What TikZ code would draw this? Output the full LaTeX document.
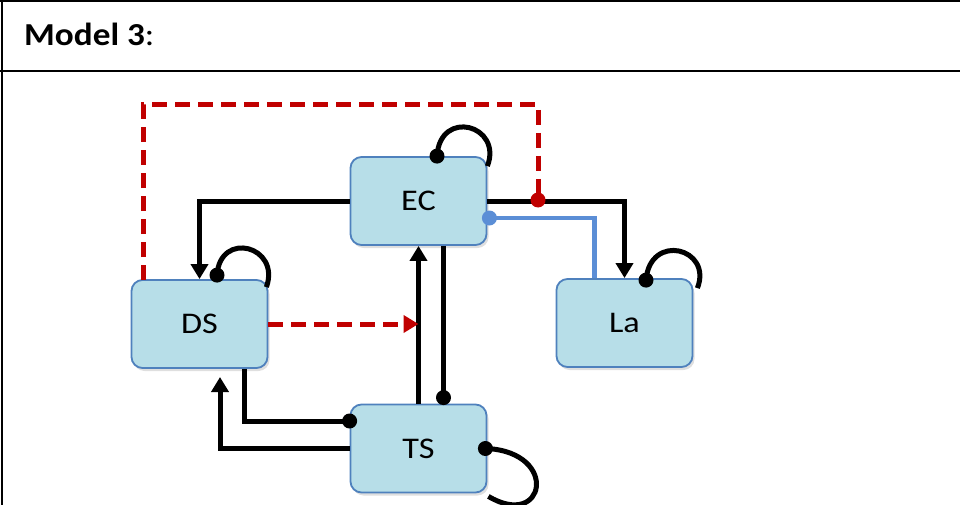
\documentclass[tikz,border=0pt]{standalone}
\usepackage{fontspec}
\setmainfont{Carlito}
\usepackage{graphicx}
\usetikzlibrary{arrows.meta,shadows,calc}
\definecolor{boxfill}{HTML}{B7DEE8}
\definecolor{boxline}{HTML}{4F81BD}
\definecolor{redline}{HTML}{C00000}
\definecolor{blueline}{HTML}{5B8ED6}
\tikzset{
  statebox/.style={draw=boxline, line width=1.8pt, fill=boxfill, rounded corners=11pt,
    minimum width=136pt, minimum height=88pt, inner sep=0pt,
    drop shadow={opacity=0.25, shadow xshift=2pt, shadow yshift=-3pt},
    font=\fontsize{30}{34}\selectfont},
  conn/.style={draw=black, line width=5pt, line join=miter},
  arr/.style={-{Triangle[width=17pt,length=15pt]}},
  reddash/.style={draw=redline, line width=5pt, dash pattern=on 15pt off 8pt},
  bluecon/.style={draw=blueline, line width=4.5pt, line join=miter},
  loopline/.style={draw=black, line width=5pt},
  frameline/.style={draw=black, line width=2.5pt}
}
\newcommand{\boxtext}[1]{\raisebox{-3pt}{\scalebox{1.14}[1]{#1}}}
\begin{document}
\begin{tikzpicture}[x=1pt,y=-1pt]
\useasboundingbox (0,0) rectangle (960,505);
\begin{scope}
\clip (0,0) rectangle (960,505);
% frame
\draw[frameline] (2,0) -- (2,505);
\draw[frameline] (0,1.2) -- (960,1.2);
\draw[frameline] (0,71) -- (960,71);
\node[anchor=base west, inner sep=0pt] (title) at (24,46)
  {\scalebox{1.1}[1]{\fontsize{32}{36}\selectfont\textbf{Model 3}:}};

% nodes
\node[statebox] (EC) at (418.5,201) {\boxtext{EC}};
\node[statebox] (DS) at (199.5,324) {\boxtext{DS}};
\node[statebox] (TS) at (418.5,448.5) {\boxtext{TS}};
\node[statebox] (La) at (624.5,323) {\boxtext{La}};

% coordinates
\coordinate (rdStart) at (143,280);
\coordinate (rdTop) at (538,105);
\coordinate (rdDot) at (538,200);
\coordinate (tsds) at (220,377);

% EC -> DS, EC -> La
\draw[conn,arr] (EC.west) -| (DS.north);
\draw[conn,arr] (EC.east) -| (La.north);

% red dashed feedback
\draw[reddash] (rdStart) |- (rdTop) -- (rdDot);
\fill[redline] (rdDot) circle (7.5pt);

% blue line
\draw[bluecon] ($(EC.east)+(2,17)$) -| ($(La.north)+(-30,0)$);
\fill[blueline] ($(EC.east)+(2,17)$) circle (7.5pt);

% TS -> EC
\draw[conn,arr] (TS.north) -- (EC.south);
% EC -> TS with dot
\draw[conn] ($(EC.south)+(25,0)$) -- ($(TS.north)+(25,-6)$);
\fill ($(TS.north)+(25,-6)$) circle (7.5pt);

% DS red dashed to the TS-EC line
\draw[reddash,-{Triangle[width=17pt,length=15pt]}] (DS.east) -- (DS.east -| EC.south);

% DS -> TS with dot
\draw[conn] ($(DS.south)+(44.5,0)$) |- ($(TS.west)+(0,-27.5)$);
\fill ($(TS.west)+(0,-27.5)$) circle (7.5pt);

% TS -> DS
\draw[conn,arr] (TS.west) -| (tsds);

% self loops
\draw[loopline] ($(EC.north east)+(0,10)$) .. controls (503,125) and (440,108) .. ($(EC.north)+(18.5,0)$);
\fill ($(EC.north)+(18.5,0)$) circle (7.5pt);

\draw[loopline] ($(DS.north east)+(-2,8)$) .. controls (281,246) and (220,230) .. ($(DS.north)+(17.5,-4)$);
\fill ($(DS.north)+(17.5,-4)$) circle (7.5pt);

\draw[loopline] ($(La.north east)+(4,10)$) .. controls (713,248) and (650,232) .. ($(La.north)+(21.5,2)$);
\fill ($(La.north)+(21.5,2)$) circle (7.5pt);

\draw[loopline] (TS.east) .. controls (560,453) and (545,530) .. ($(TS.south east)+(1,3)$);
\fill ($(TS.east)+(-2,0)$) circle (7.5pt);
\end{scope}
\end{tikzpicture}
\end{document}
